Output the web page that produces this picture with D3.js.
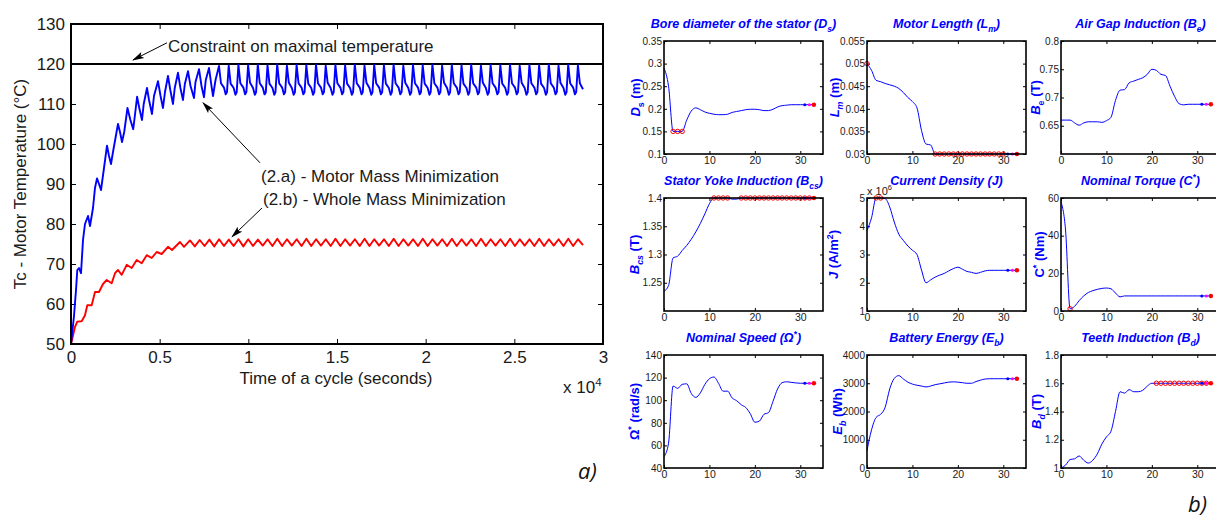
<!DOCTYPE html>
<html><head><meta charset="utf-8">
<script src="https://cdn.jsdelivr.net/npm/d3@7"></script>
<style>
body{margin:0;background:#fff;}
svg{display:block;font-family:"Liberation Sans",Arial,sans-serif;}
</style></head><body>
<svg id="c" width="1216" height="520"></svg>
<script>
// ---------------- DATA ----------------
const mainXTicks = [0, 5000, 10000, 15000, 20000, 25000, 30000];
const mainYTicks = [50, 60, 70, 80, 90, 100, 110, 120, 130];
const constraintTemp = 120;

// (2.a) Motor mass minimization: [time (s), temperature (°C)]
const motorMassSeries = [
[0,50],[169,57],[282,63.5],[355,68.5],[451,69],[564,67.7],[677,76],[789,80],[959,82],[1071,79.5],[1241,84],[1353,89],[1466,91.4],[1579,90],[1692,88.5],[1861,94],[2030,99.6],[2143,97],[2256,95],[2368,98],[2650,105],[2763,103],[2876,100.5],[3000,103],[3185,109],[3350,106],[3508,103.7],[3600,107],[3727,111.8],[3850,109],[4003,106],[4100,110],[4285,114],[4400,111],[4567,107.5],[4680,112],[4905,115.7],[5050,112],[5187,109],[5300,113],[5469,117],[5600,113.5],[5751,110],[5850,114],[6033,117.8],[6170,114],[6315,111],[6420,115],[6597,118.2],[6740,114.5],[6936,111.5],[7020,115.5],[7218,118.7],[7360,114.5],[7500,111.7],[7600,116],[7782,119],[7920,114.6],[8008,112],[8150,116],
[8346,119.5],[8456,115.2],[8626,114.1],[8726,112.4],[8796,113.0],
[8893,119.6],[9003,115.1],[9173,114.0],[9273,112.3],[9343,112.9],
[9440,119.8],[9550,115.2],[9720,114.1],[9820,112.4],[9890,113.0],
[9987,119.7],[10097,115.3],[10267,114.0],[10367,112.3],[10437,113.0],
[10534,119.9],[10644,115.2],[10814,114.1],[10914,112.4],[10984,112.9],
[11081,119.7],[11191,115.1],[11361,114.0],[11461,112.3],[11531,113.0],
[11628,120],[11738,115.2],[11908,114.1],[12008,112.4],[12078,113.0],
[12175,119.6],[12285,115.3],[12455,114.0],[12555,112.3],[12625,112.9],
[12722,119.8],[12832,115.2],[13002,114.1],[13102,112.4],[13172,113.0],
[13269,119.7],[13379,115.1],[13549,114.0],[13649,112.3],[13719,113.0],
[13816,119.9],[13926,115.2],[14096,114.1],[14196,112.4],[14266,113.0],
[14363,119.6],[14473,115.3],[14643,114.0],[14743,112.3],[14813,112.9],
[14910,119.8],[15020,115.2],[15190,114.1],[15290,112.4],[15360,113.0],
[15457,119.7],[15567,115.1],[15737,114.0],[15837,112.3],[15907,113.0],
[16004,119.9],[16114,115.2],[16284,114.1],[16384,112.4],[16454,113.0],
[16551,119.6],[16661,115.3],[16831,114.0],[16931,112.3],[17001,112.9],
[17098,119.8],[17208,115.2],[17378,114.1],[17478,112.4],[17548,113.0],
[17645,119.7],[17755,115.1],[17925,114.0],[18025,112.3],[18095,113.0],
[18192,119.9],[18302,115.2],[18472,114.1],[18572,112.4],[18642,113.0],
[18739,119.6],[18849,115.3],[19019,114.0],[19119,112.3],[19189,112.9],
[19286,119.8],[19396,115.2],[19566,114.1],[19666,112.4],[19736,113.0],
[19833,119.7],[19943,115.1],[20113,114.0],[20213,112.3],[20283,113.0],
[20380,119.9],[20490,115.2],[20660,114.1],[20760,112.4],[20830,113.0],
[20927,119.6],[21037,115.3],[21207,114.0],[21307,112.3],[21377,112.9],
[21474,119.8],[21584,115.2],[21754,114.1],[21854,112.4],[21924,113.0],
[22021,119.7],[22131,115.1],[22301,114.0],[22401,112.3],[22471,113.0],
[22568,119.9],[22678,115.2],[22848,114.1],[22948,112.4],[23018,113.0],
[23115,119.6],[23225,115.3],[23395,114.0],[23495,112.3],[23565,112.9],
[23662,119.8],[23772,115.2],[23942,114.1],[24042,112.4],[24112,113.0],
[24209,119.7],[24319,115.1],[24489,114.0],[24589,112.3],[24659,113.0],
[24756,119.9],[24866,115.2],[25036,114.1],[25136,112.4],[25206,113.0],
[25303,119.6],[25413,115.3],[25583,114.0],[25683,112.3],[25753,112.9],
[25850,119.8],[25960,115.2],[26130,114.1],[26230,112.4],[26300,113.0],
[26397,119.7],[26507,115.1],[26677,114.0],[26777,112.3],[26847,113.0],
[26944,119.9],[27054,115.2],[27224,114.1],[27324,112.4],[27394,113.0],
[27491,119.6],[27601,115.3],[27771,114.0],[27871,112.3],[27941,112.9],
[28038,119.8],[28148,115.2],[28318,114.1],[28418,112.4],[28488,113.0],
[28585,119.7],[28695,115.2],[28872,113.7]
];

// (2.b) Whole mass minimization: [time (s), temperature (°C)]
const wholeMassSeries = [
[0,50],[56,51],[226,54.3],[355,55.6],[603,55.7],[789,57.2],[919,59.7],[1167,59.7],[1353,63],[1579,63],[1804,65],[2013,66],[2295,65.2],[2481,67.7],[2650,68.5],[2859,67.3],[3141,69.8],[3423,69],[3705,71],[3987,70.2],[4269,72.2],[4551,71.5],[4833,73],[5115,72.5],[5470,74.3],[5695,73.5],[6146,75.5],[6372,74.3],
[6710,75.9],[6983,74.4],[7257,76],[7530,74.5],[7804,76.1],[8077,74.4],[8351,76.2],[8624,74.5],[8898,76.1],[9171,74.5],[9445,76.2],[9718,74.4],[9992,76.2],[10265,74.5],[10539,76.1],[10812,74.6],[11086,76.2],[11359,74.5],[11633,76.3],[11906,74.5],[12180,76.2],[12453,74.6],[12727,76.2],[13000,74.5],[13274,76.3],[13547,74.5],[13821,76.2],[14094,74.6],[14368,76.2],[14641,74.5],[14915,76.3],[15188,74.5],[15462,76.2],[15735,74.6],[16009,76.2],[16282,74.5],[16556,76.3],[16829,74.5],[17103,76.2],[17376,74.6],[17650,76.2],[17923,74.5],[18197,76.3],[18470,74.5],[18744,76.2],[19017,74.6],[19291,76.2],[19564,74.5],[19838,76.3],[20111,74.5],[20385,76.2],[20658,74.6],[20932,76.2],[21205,74.5],[21479,76.3],[21752,74.5],[22026,76.2],[22299,74.6],[22573,76.2],[22846,74.5],[23120,76.3],[23393,74.5],[23667,76.2],[23940,74.6],[24214,76.2],[24487,74.5],[24761,76.3],[25034,74.5],[25308,76.2],[25581,74.6],[25855,76.2],[26128,74.5],[26402,76.3],[26675,74.5],[26949,76.2],[27222,74.6],[27496,76.2],[27769,74.5],[28043,76.3],[28316,74.5],[28590,76.2],[28872,74.7]
];

// Optimization iterations (b)
const iterations = [0,1,2,3,4,5,6,7,8,9,10,11,12,13,14,15,16,17,18,19,20,21,22,23,24,25,26,27,28,29,30,31,32,33];
const iterTicks = [0, 10, 20, 30];

const dsValues = [0.29,0.25,0.15,0.15,0.15,0.175,0.195,0.202,0.198,0.193,0.19,0.188,0.187,0.187,0.188,0.192,0.194,0.196,0.198,0.199,0.199,0.198,0.196,0.196,0.199,0.204,0.207,0.208,0.209,0.209,0.209,0.209,0.209,0.209];
const dsActive = [2,3,4];
const dsTicks = [0.1,0.15,0.2,0.25,0.3,0.35];

const lmValues = [0.05,0.0485,0.0463,0.046,0.0456,0.0453,0.045,0.0445,0.0436,0.0425,0.0416,0.0402,0.0352,0.0322,0.032,0.03,0.03,0.03,0.03,0.03,0.03,0.03,0.03,0.03,0.03,0.03,0.03,0.03,0.03,0.03,0.03,0.03,0.03,0.03];
const lmActive = [0,15,16,17,18,19,20,21,22,23,24,25,26,27,28,29,30];
const lmTicks = [0.03,0.035,0.04,0.045,0.05,0.055];

const beValues = [0.66,0.66,0.66,0.655,0.651,0.655,0.657,0.657,0.657,0.656,0.659,0.665,0.695,0.713,0.714,0.726,0.729,0.732,0.735,0.741,0.75,0.748,0.741,0.739,0.72,0.702,0.689,0.687,0.688,0.688,0.688,0.688,0.688,0.688];
const beActive = [];
const beTicks = [0.65,0.7,0.75,0.8];

const bcsValues = [1.235,1.245,1.294,1.297,1.307,1.316,1.327,1.34,1.355,1.372,1.39,1.4,1.4,1.4,1.4,1.398,1.398,1.4,1.4,1.4,1.4,1.4,1.4,1.4,1.4,1.4,1.4,1.4,1.4,1.4,1.4,1.4,1.4,1.4];
const bcsActive = [11,12,13,14,17,18,19,20,21,22,23,24,25,26,27,28,29,30,31,32];
const bcsTicks = [1.25,1.3,1.35,1.4];

const jValues = [3.85,4.3,5,5,4.98,4.68,4.15,3.72,3.5,3.3,3.15,3.0,2.45,2.0,2.1,2.2,2.27,2.33,2.42,2.5,2.55,2.48,2.4,2.37,2.33,2.37,2.42,2.44,2.44,2.44,2.44,2.44,2.44,2.44];
const jActive = [2,3];
const jTicks = [1,2,3,4,5];

const torqueValues = [58,43,1.2,2.5,5.5,8,9.8,10.8,11.5,12,12.2,11.8,9.5,7.5,8,8,8,8,8,8,8,8,8,8,8,8,8,8,8,8,8,8,8,8];
const torqueActive = [2];
const torqueTicks = [0,20,40,60];

const speedValues = [50,62,112.5,110.5,114,114.5,106,102.5,106.5,114,119,120.5,115,108,108,102,99.5,96,93.5,88,80.5,81.5,87.5,89,99,110,115.5,116.3,115.8,115.3,115,115,115,115];
const speedActive = [];
const speedTicks = [40,60,80,100,120,140];

const energyValues = [620,1350,1790,1900,2150,2800,3170,3270,3150,3040,2970,2930,2900,2870,2900,2950,2980,3010,3040,3050,3040,3020,3000,3000,3060,3110,3150,3160,3160,3160,3160,3160,3160,3160];
const energyActive = [];
const energyTicks = [0,1000,2000,3000,4000];

const bdValues = [1.0,1.02,1.06,1.065,1.085,1.055,1.035,1.055,1.1,1.17,1.22,1.26,1.4,1.54,1.53,1.555,1.54,1.54,1.55,1.58,1.6,1.6,1.6,1.6,1.6,1.6,1.6,1.6,1.6,1.6,1.6,1.6,1.6,1.6];
const bdActive = [21,22,23,24,25,26,27,28,29,30,31,32];
const bdTicks = [1,1.2,1.4,1.6,1.8];

// ---------------- DRAW ----------------
const svg = d3.select("#c");
const BLUE = "#0000ff", RED = "#ff0000", TXT = "#1a1a1a";

function rich(sel, parts, size){
  let shift = 0;
  parts.forEach(p => {
    const t = p[0], s = p[1] || "";
    const ts = sel.append("tspan").text(t);
    let target = 0;
    if (s.indexOf("sub") >= 0) target = size * 0.28;
    if (s.indexOf("sup") >= 0) target = -size * 0.42;
    if (target - shift !== 0) ts.attr("dy", target - shift);
    shift = target;
    if (target !== 0) ts.attr("font-size", size * 0.68);
    if (s.indexOf("i") >= 0) ts.attr("font-style", "italic");
  });
  if (shift !== 0) sel.append("tspan").attr("dy", -shift).text("");
}

// ===== Chart a) =====
const mx = d3.scaleLinear().domain([0, 30000]).range([71, 603]);
const my = d3.scaleLinear().domain([50, 130]).range([344, 24]);
const ga = svg.append("g");

function styleAxis(g, size){
  g.select(".domain").remove();
  g.selectAll(".tick line").attr("stroke", "#000").attr("stroke-width", 1);
  g.selectAll(".tick text").attr("font-size", size).attr("fill", TXT)
    .attr("font-family", '"Liberation Sans", Arial, sans-serif');
}
const fmtX = d => d === 0 ? "0" : String(d / 1e4);

ga.append("g").attr("transform", `translate(0,${my(50)})`)
  .call(d3.axisBottom(mx).tickValues(mainXTicks).tickSize(-5).tickPadding(7).tickFormat(fmtX))
  .call(styleAxis, 17);
ga.append("g").attr("transform", `translate(0,${my(130)})`)
  .call(d3.axisTop(mx).tickValues(mainXTicks).tickSize(-5).tickFormat(""))
  .call(styleAxis, 17);
ga.append("g").attr("transform", `translate(${mx(0)},0)`)
  .call(d3.axisLeft(my).tickValues(mainYTicks).tickSize(-5).tickPadding(6))
  .call(styleAxis, 17);
ga.append("g").attr("transform", `translate(${mx(30000)},0)`)
  .call(d3.axisRight(my).tickValues(mainYTicks).tickSize(-5).tickFormat(""))
  .call(styleAxis, 17);

// constraint line
ga.append("line").attr("x1", mx(0)).attr("x2", mx(30000))
  .attr("y1", my(constraintTemp)).attr("y2", my(constraintTemp))
  .attr("stroke", "#000").attr("stroke-width", 2);

const lineA = d3.line().x(d => mx(d[0])).y(d => my(d[1]));
ga.append("path").datum(wholeMassSeries).attr("d", lineA)
  .attr("fill", "none").attr("stroke", RED).attr("stroke-width", 1.9).attr("stroke-linejoin", "round");
ga.append("path").datum(motorMassSeries).attr("d", lineA)
  .attr("fill", "none").attr("stroke", BLUE).attr("stroke-width", 1.9).attr("stroke-linejoin", "round");

// frame
ga.append("rect").attr("x", mx(0)).attr("y", my(130))
  .attr("width", mx(30000) - mx(0)).attr("height", my(50) - my(130))
  .attr("fill", "none").attr("stroke", "#000").attr("stroke-width", 2);

// labels
ga.append("text").attr("x", (mx(0) + mx(30000)) / 2 - 1).attr("y", 384)
  .attr("text-anchor", "middle").attr("font-size", 17).attr("fill", TXT)
  .text("Time of a cycle (seconds)");
const xe = ga.append("text").attr("x", 563).attr("y", 393).attr("font-size", 17).attr("fill", TXT);
rich(xe, [["x 10"], ["4", "sup"]], 17);
ga.append("text").attr("transform", `translate(26,${(my(50) + my(130)) / 2}) rotate(-90)`)
  .attr("text-anchor", "middle").attr("font-size", 17).attr("fill", TXT)
  .text("Tc - Motor Temperature (°C)");

// annotations
const defs = svg.append("defs");
defs.append("marker").attr("id", "ah").attr("viewBox", "0 0 12 8")
  .attr("refX", 11).attr("refY", 4).attr("markerWidth", 12).attr("markerHeight", 8)
  .attr("markerUnits", "userSpaceOnUse").attr("orient", "auto")
  .append("path").attr("d", "M0,0.6 L12,4 L0,7.4 L2.5,4 Z").attr("fill", "#000");

const annots = [
  {text: "Constraint on maximal temperature", tx: 5470, ty: 123, from: [5413, 125.3], to: [3496, 121]},
  {text: "(2.a) - Motor Mass Minimization", tx: 10714, ty: 90.5, from: [10658, 95.3], to: [7443, 110.3]},
  {text: "(2.b) - Whole Mass Minimization", tx: 10827, ty: 84.75, from: [10770, 84], to: [9079, 76.8]}
];
annots.forEach(a => {
  ga.append("line").attr("x1", mx(a.from[0])).attr("y1", my(a.from[1]))
    .attr("x2", mx(a.to[0])).attr("y2", my(a.to[1]))
    .attr("stroke", "#000").attr("stroke-width", 1).attr("marker-end", "url(#ah)");
  ga.append("text").attr("x", mx(a.tx)).attr("y", my(a.ty)).attr("font-size", 17)
    .attr("fill", TXT).text(a.text);
});

svg.append("text").attr("x", 578).attr("y", 479).attr("font-size", 22)
  .attr("font-style", "italic").attr("font-family", '"Open Sans", sans-serif').attr("fill", "#111").text("a)");
svg.append("text").attr("x", 1188).attr("y", 512).attr("font-size", 22)
  .attr("font-style", "italic").attr("font-family", '"Open Sans", sans-serif').attr("fill", "#111").text("b)");

// ===== Panels b) =====
const colX = [664, 867, 1061], rowY = [41, 198, 355], PW = 159, PH = 113;
const fmtN = d => String(d);
const panels = [
  {c:0, r:0, title:[["Bore diameter of the stator ("],["D"],["s","sub"],[")"]], yl:[["D","i"],["s","sub"],[" (m)"]], dom:[0.1,0.35], ticks:dsTicks, vals:dsValues, act:dsActive, lo:29},
  {c:1, r:0, title:[["Motor Length ("],["L"],["m","sub"],[")"]], yl:[["L","i"],["m","isub"],[" (m)"]], dom:[0.03,0.055], ticks:lmTicks, vals:lmValues, act:lmActive, lo:33},
  {c:2, r:0, title:[["Air Gap Induction ("],["B"],["e","sub"],[")"]], yl:[["B","i"],["e","sub"],[" (T)"]], dom:[0.6,0.8], ticks:beTicks, vals:beValues, act:beActive, lo:26},
  {c:0, r:1, title:[["Stator Yoke Induction ("],["B"],["cs","sub"],[")"]], yl:[["B","i"],["cs","isub"],[" (T)"]], dom:[1.2,1.4], ticks:bcsTicks, vals:bcsValues, act:bcsActive, lo:30},
  {c:1, r:1, title:[["Current Density (J)"]], yl:[["J","i"],[" (A/m"],["2","sup"],[")"]], dom:[1,5], ticks:jTicks, vals:jValues, act:jActive, lo:34, exp:"6"},
  {c:2, r:1, title:[["Nominal Torque (C"],["*","sup"],[")"]], yl:[["C"],["*","sup"],[" (Nm)"]], dom:[0,60], ticks:torqueTicks, vals:torqueValues, act:torqueActive, lo:22},
  {c:0, r:2, title:[["Nominal Speed ("],["Ω"],["*","sup"],[")"]], yl:[["Ω"],["*","sup"],[" (rad/s)"]], dom:[40,140], ticks:speedTicks, vals:speedValues, act:speedActive, lo:30},
  {c:1, r:2, title:[["Battery Energy ("],["E"],["b","sub"],[")"]], yl:[["E","i"],["b","isub"],[" (Wh)"]], dom:[0,4000], ticks:energyTicks, vals:energyValues, act:energyActive, lo:30},
  {c:2, r:2, title:[["Teeth Induction ("],["B"],["d","sub"],[")"]], yl:[["B","i"],["d","isub"],[" (T)"]], dom:[1,1.8], ticks:bdTicks, vals:bdValues, act:bdActive, lo:25}
];

panels.forEach(p => {
  const x0 = colX[p.c], y0 = rowY[p.r];
  const x = d3.scaleLinear().domain([0, 35]).range([x0, x0 + PW]);
  const y = d3.scaleLinear().domain(p.dom).range([y0 + PH, y0]);
  const g = svg.append("g");

  g.append("g").attr("transform", `translate(0,${y0 + PH})`)
    .call(d3.axisBottom(x).tickValues(iterTicks).tickSize(-3).tickPadding(3).tickFormat(fmtN)).call(styleAxis, 10.5);
  g.append("g").attr("transform", `translate(0,${y0})`)
    .call(d3.axisTop(x).tickValues(iterTicks).tickSize(-3).tickFormat("")).call(styleAxis, 10.5);
  g.append("g").attr("transform", `translate(${x0},0)`)
    .call(d3.axisLeft(y).tickValues(p.ticks).tickSize(-3).tickPadding(2).tickFormat(fmtN)).call(styleAxis, 10);
  g.append("g").attr("transform", `translate(${x0 + PW},0)`)
    .call(d3.axisRight(y).tickValues(p.ticks).tickSize(-3).tickFormat("")).call(styleAxis, 10);

  const data = iterations.map((it, i) => [it, p.vals[i]]);
  g.append("path").datum(data)
    .attr("d", d3.line().x(d => x(d[0])).y(d => y(d[1])).curve(d3.curveMonotoneX))
    .attr("fill", "none").attr("stroke", BLUE).attr("stroke-width", 1);

  g.selectAll("circle.act").data(p.act).join("circle").attr("class", "act")
    .attr("cx", d => x(iterations[d])).attr("cy", d => y(p.vals[d])).attr("r", 2.2)
    .attr("fill", "none").attr("stroke", RED).attr("stroke-width", 1);

  const n = iterations.length;
  g.append("circle").attr("cx", x(iterations[n - 3])).attr("cy", y(p.vals[n - 3])).attr("r", 1.5).attr("fill", BLUE);
  g.append("circle").attr("cx", x(iterations[n - 2])).attr("cy", y(p.vals[n - 2])).attr("r", 1.5).attr("fill", "#ff00ff");
  g.append("circle").attr("cx", x(iterations[n - 1])).attr("cy", y(p.vals[n - 1])).attr("r", 2.2).attr("fill", RED);

  g.append("rect").attr("x", x0).attr("y", y0).attr("width", PW).attr("height", PH)
    .attr("fill", "none").attr("stroke", "#000").attr("stroke-width", 1.6);

  const t = g.append("text").attr("x", x0 + PW / 2).attr("y", y0 - 13)
    .attr("text-anchor", "middle").attr("font-size", 12.5).attr("font-weight", "bold")
    .attr("font-style", "italic").attr("fill", BLUE);
  rich(t, p.title, 12.5);

  const yl = g.append("text").attr("transform", `translate(${x0 - p.lo + 5},${y0 + PH / 2}) rotate(-90)`)
    .attr("text-anchor", "middle").attr("font-size", 13).attr("font-weight", "bold").attr("fill", BLUE);
  rich(yl, p.yl, 13);

  if (p.exp) {
    const e = g.append("text").attr("x", x0).attr("y", y0 - 3).attr("font-size", 11).attr("fill", TXT);
    rich(e, [["x 10"], [p.exp, "sup"]], 11);
  }
});
</script>
</body></html>
